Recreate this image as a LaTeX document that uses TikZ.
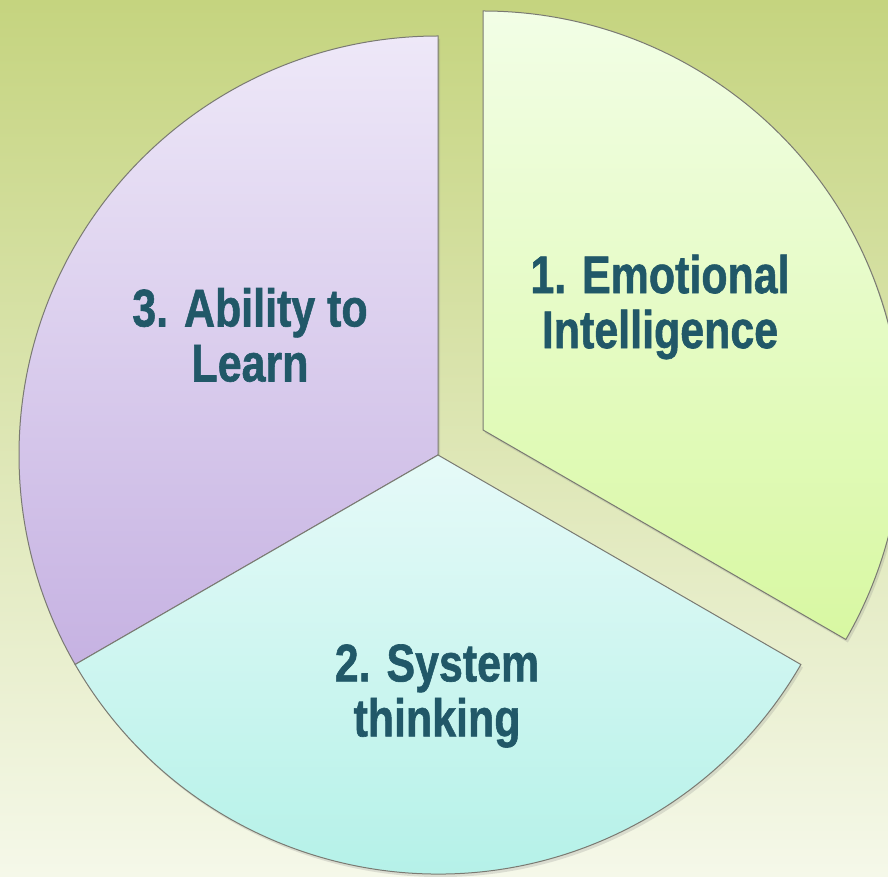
\documentclass[tikz,border=0pt]{standalone}
\usepackage{fontspec}
\setmainfont{Liberation Sans}[BoldFeatures={FakeBold=1.2}]
\usetikzlibrary{shadows}
\definecolor{bgtop}{HTML}{C5D47F}
\definecolor{bgbot}{HTML}{F5F8E9}
\definecolor{grntop}{HTML}{F2FEE6}
\definecolor{grnbot}{HTML}{D8F8A2}
\definecolor{purtop}{HTML}{EEE8F8}
\definecolor{purbot}{HTML}{C6B2E2}
\definecolor{cyntop}{HTML}{E6FAF8}
\definecolor{cynbot}{HTML}{AEF0E6}
\definecolor{edge}{HTML}{7A7A72}
\definecolor{labeltxt}{HTML}{215868}
\tikzset{
  slice/.style={draw=edge, line width=1pt,
    drop shadow={opacity=0.22, shadow xshift=2pt, shadow yshift=-3pt}},
  slicelabel/.style={text=labeltxt, align=center, inner sep=0pt,
    font=\fontsize{53}{55}\selectfont\bfseries, xscale=0.81}
}
\begin{document}
\begin{tikzpicture}[x=1pt,y=1pt]
\useasboundingbox (0,0) rectangle (888,876);
\clip (0,0) rectangle (888,876);
\shade[top color=bgtop, bottom color=bgbot] (0,0) rectangle (888,876);
\coordinate (C) at (438,421);
\coordinate (G) at (483,446);
% slice 3 (purple)
\path[slice, top color=purtop, bottom color=purbot]
  (C) -- ++(90:419) arc[start angle=90, end angle=210, radius=419] -- cycle;
% slice 2 (cyan)
\path[slice, top color=cyntop, bottom color=cynbot]
  (C) -- ++(210:419) arc[start angle=210, end angle=330, radius=419] -- cycle;
% slice 1 (green, exploded)
\path[slice, top color=grntop, bottom color=grnbot]
  (G) -- ++(-30:419) arc[start angle=-30, end angle=90, radius=419] -- cycle;
\node[slicelabel] (l1) at (660,569) {1. Emotional\\Intelligence};
\node[slicelabel] (l3) at (250,541) {3. Ability to\\Learn};
\node[slicelabel] (l2) at (437,180) {2. System\\thinking};
\end{tikzpicture}
\end{document}
